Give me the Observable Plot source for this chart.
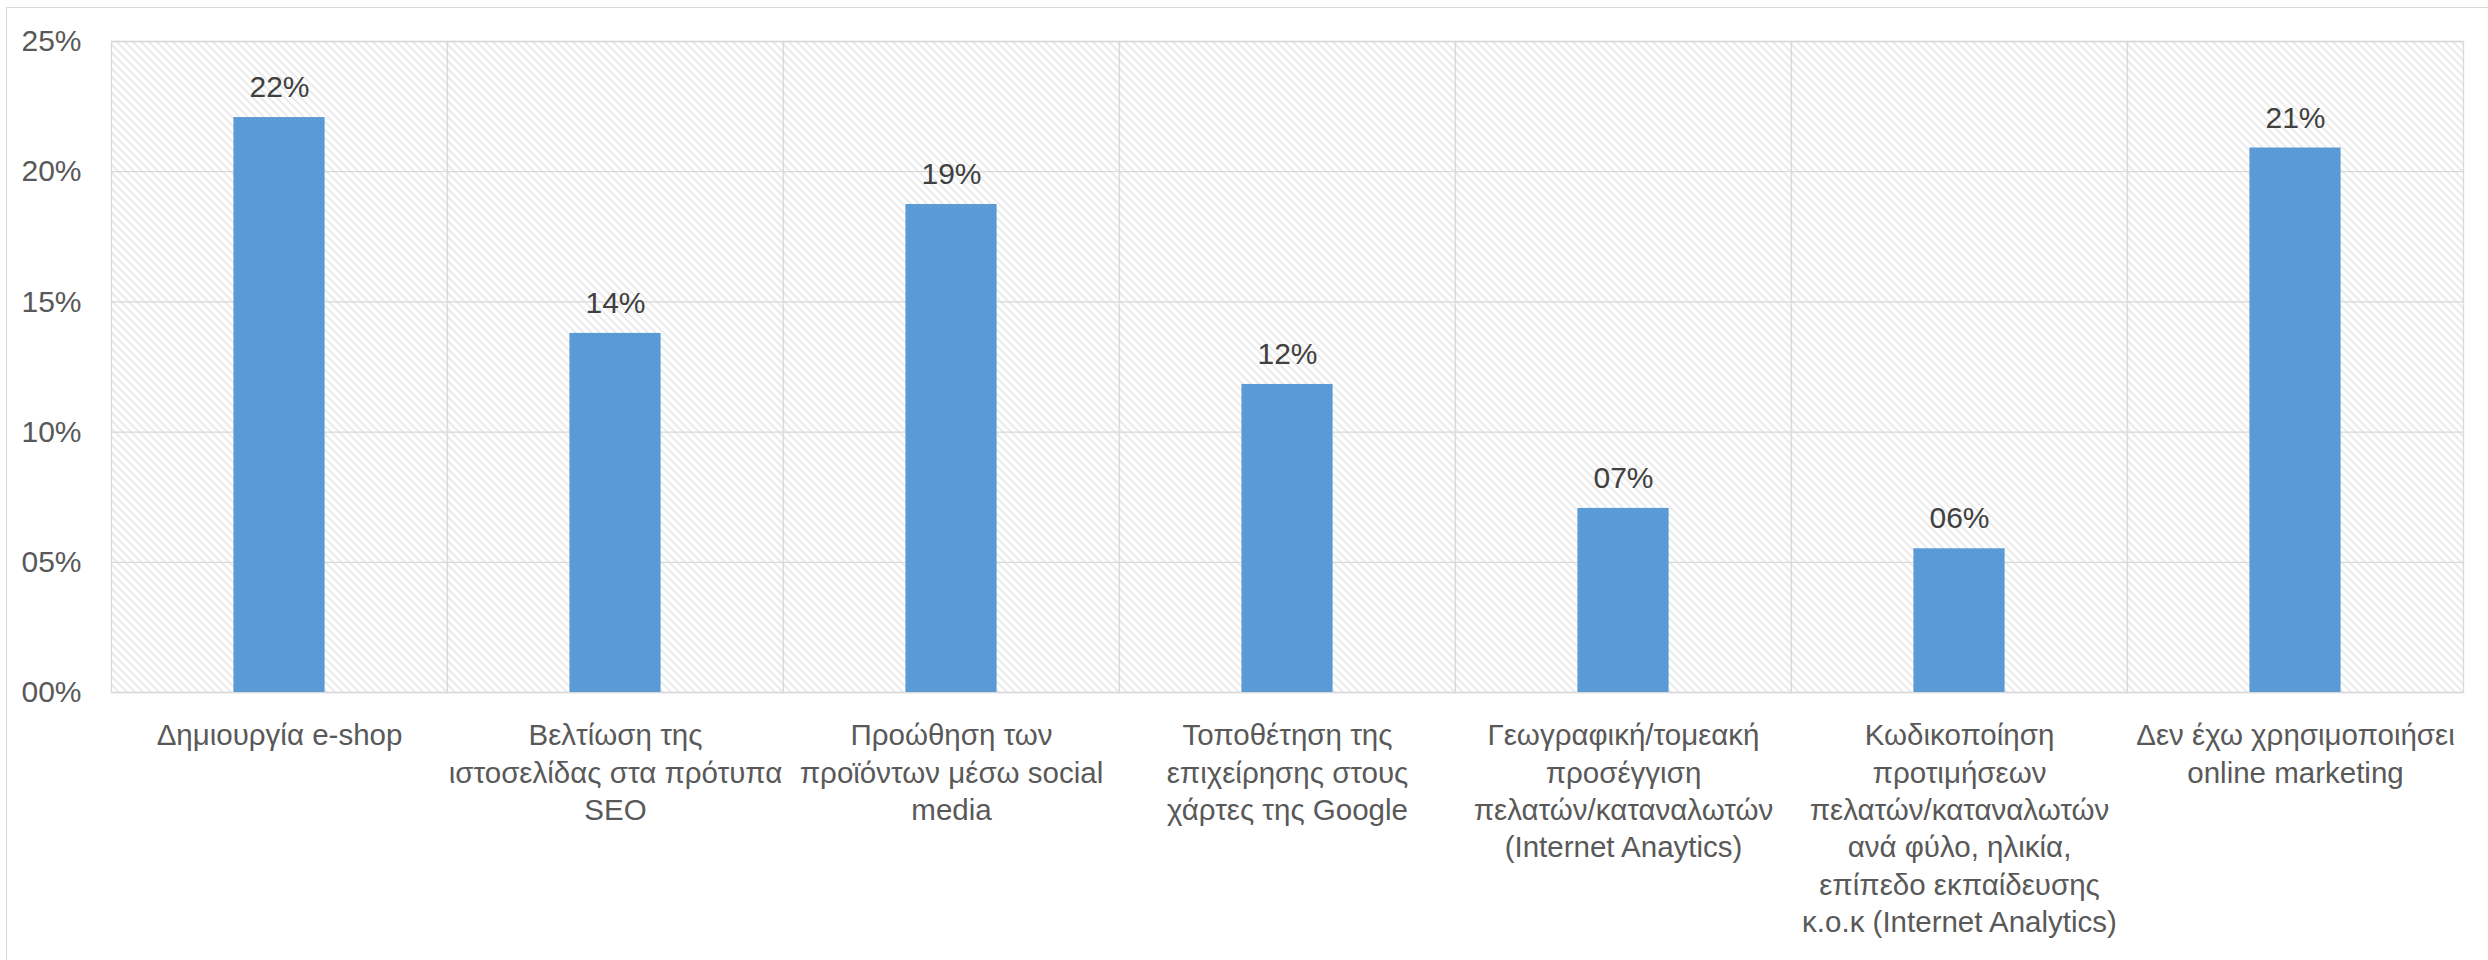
<!DOCTYPE html>
<html>
<head>
<meta charset="utf-8">
<script src="https://cdn.jsdelivr.net/npm/d3@7"></script>
<script src="https://cdn.jsdelivr.net/npm/@observablehq/plot@0.6"></script>
<style>
  html, body { margin: 0; padding: 0; background: #fff; }
  #wrap { position: relative; width: 2488px; height: 960px; overflow: hidden; }
  #border { position: absolute; left: 6px; top: 7px; width: 3000px; height: 2000px;
            border-left: 1.5px solid #d9d9d9; border-top: 1.5px solid #d9d9d9; pointer-events: none; }
</style>
</head>
<body>
<div id="wrap"><div id="border"></div></div>
<script>
const categories = [
  "Δημιουργία e-shop",
  "Βελτίωση της\nιστοσελίδας στα πρότυπα\nSEO",
  "Προώθηση των\nπροϊόντων μέσω social\nmedia",
  "Τοποθέτηση της\nεπιχείρησης στους\nχάρτες της Google",
  "Γεωγραφική/τομεακή\nπροσέγγιση\nπελατών/καταναλωτών\n(Internet Anaytics)",
  "Κωδικοποίηση\nπροτιμήσεων\nπελατών/καταναλωτών\nανά φύλο, ηλικία,\nεπίπεδο εκπαίδευσης\nκ.ο.κ (Internet Analytics)",
  "Δεν έχω χρησιμοποιήσει\nonline marketing"
];
const values = [22.08, 13.79, 18.74, 11.83, 7.07, 5.52, 20.91];
const yTicks = [0, 5, 10, 15, 20, 25];

const data = categories.map((c, i) => ({cat: c, value: values[i]}));
const pct = v => String(Math.round(v)).padStart(2, "0") + "%";

const chart = Plot.plot({
  width: 2488,
  height: 960,
  marginTop: 41,
  marginBottom: 268,
  marginLeft: 108,
  marginRight: 22,
  style: {
    fontFamily: "'Liberation Sans', Arial, sans-serif",
    fontSize: "29.5px",
    color: "#595959",
    background: "transparent",
    overflow: "visible"
  },
  fx: {domain: categories, padding: 0, axis: null},
  y: {domain: [0, 25], axis: null},
  marks: [
    Plot.frame({fill: "url(#hatch)", stroke: "#d9d9d9", strokeWidth: 1.3}),
    Plot.ruleY(yTicks, {stroke: "#d9d9d9", strokeWidth: 1.3}),
    Plot.barY(data, {fx: "cat", y: "value", fill: "#5B9BD5", insetLeft: 122.4, insetRight: 122.4}),
    Plot.text(data, {fx: "cat", y: "value", text: d => pct(d.value), dy: -30, fontSize: 30, fill: "#404040"}),
    Plot.axisY({ticks: yTicks, tickFormat: d => String(d).padStart(2, "0") + "%", tickSize: 0, tickPadding: 30, label: null, fontSize: 30, fill: "#595959"}),
    Plot.axisFx({anchor: "bottom", tickSize: 0, tickPadding: 26, label: null, lineHeight: 1.27, fontSize: 29.5, fill: "#595959"})
  ]
});

const svg = d3.select(chart);
const defs = svg.insert("defs", ":first-child");
const pat = defs.append("pattern")
  .attr("id", "hatch").attr("patternUnits", "userSpaceOnUse")
  .attr("width", 8).attr("height", 8);
pat.append("rect").attr("width", 8).attr("height", 8).attr("fill", "#fff");
pat.append("path").attr("d", "M0,0L8,8M-2,6L2,10M6,-2L10,2")
  .attr("stroke", "#dadada").attr("stroke-width", 1.2).attr("fill", "none");

document.getElementById("wrap").prepend(chart);
</script>
</body>
</html>
